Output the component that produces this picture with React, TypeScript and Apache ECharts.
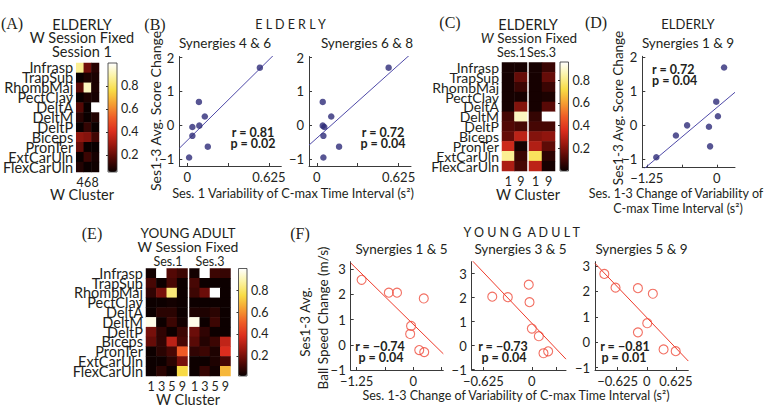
import React, { useEffect, useRef } from 'react';
import * as echarts from 'echarts';

// ---------- data ----------
const muscles = ['Infrasp', 'TrapSup', 'RhombMaj', 'PectClav', 'DeltA', 'DeltM', 'DeltP', 'Biceps', 'PronTer', 'ExtCarUln', 'FlexCarUln'];

// (A) ELDERLY, W Session Fixed, Session 1 — W clusters 4, 6, 8
const clustersA = ['4', '6', '8'];
const heatA = [
  [0.86, 0.22, 0.10],
  [0.05, 0.08, 0.08],
  [0.18, 0.92, 0.08],
  [0.05, 0.08, 0.07],
  [0.17, 0.05, 1.0],
  [0.10, 0.05, 0.09],
  [0.05, 0.12, 0.05],
  [0.27, 0.25, 0.14],
  [0.20, 0.05, 0.05],
  [0.05, 0.13, 0.07],
  [0.09, 0.05, 0.06],
];

// (C) ELDERLY, W Session Fixed — clusters 1, 9 in Ses.1 and Ses.3
const clustersC = ['1', '9'];
const heatC1 = [
  [0.02, 0.02], [0.02, 0.15], [0.02, 0.08], [0.02, 0.02], [0.02, 0.2], [0.1, 0.88],
  [0.12, 0.1], [0.15, 0.3], [0.33, 0.02], [0.82, 0.08], [0.27, 0.1],
];
const heatC3 = [
  [0.02, 0.08], [0.02, 0.15], [0.02, 0.08], [0.02, 0.03], [0.02, 0.13], [0.07, 0.96],
  [0.1, 0.1], [0.2, 0.22], [0.28, 0.14], [0.75, 0.06], [0.3, 0.02],
];

// (E) YOUNG ADULT, W Session Fixed — clusters 1, 3, 5, 9 in Ses.1 and Ses.3
const clustersE = ['1', '3', '5', '9'];
const heatE1 = [
  [0.03, 1.0, 0.14, 0.1], [0.12, 0.02, 0.12, 0.02], [0.08, 0.2, 0.82, 0.02], [0.02, 0.02, 0.03, 0.02],
  [0.02, 0.07, 0.07, 0.02], [0.97, 0.02, 0.1, 0.03], [0.2, 0.08, 0.02, 0.1], [0.17, 0.08, 0.32, 0.12],
  [0.02, 0.07, 0.12, 0.5], [0.02, 0.02, 0.07, 0.2], [0.02, 0.07, 0.02, 0.75],
];
const heatE3 = [
  [0.03, 1.0, 0.1, 0.09], [0.12, 0.02, 0.02, 0.02], [0.1, 0.18, 1.0, 0.02], [0.02, 0.02, 0.02, 0.02],
  [0.05, 0.05, 0.07, 0.02], [0.97, 0.02, 0.1, 0.02], [0.18, 0.08, 0.02, 0.02], [0.15, 0.06, 0.1, 0.33],
  [0.08, 0.1, 0.05, 0.38], [0.02, 0.02, 0.05, 0.12], [0.02, 0.09, 0.03, 0.68],
];
const colorbarTicks = [0.2, 0.4, 0.6, 0.8];

// (B), (D) ELDERLY scatter
const scoreChange = [1.70, 0.69, 0.26, -0.01, -0.05, -0.31, -0.63, -0.95];
const varS1Syn46 = [0.556, 0.09, 0.135, 0.093, 0.04, 0.04, 0.158, 0.015];
const varS1Syn68 = [0.549, 0.045, 0.11, 0.045, 0.057, 0.05, 0.17, 0.05];
const dVarSyn19 = [0.13, -0.01, 0.02, -0.53, -0.14, -0.73, -0.12, -1.08];

// (F) YOUNG ADULT scatter
const ballSyn15 = [2.58, 2.07, 2.07, 1.84, 0.75, 0.43, -0.21, -0.29];
const dVarSyn15 = [-1.14, -0.54, -0.36, 0.23, -0.05, -0.07, 0.13, 0.24];
const ballSyn35 = [2.54, 2.04, 2.02, 1.81, 0.71, 0.39, -0.24, -0.32];
const dVarSyn35 = [-0.04, -0.51, -0.31, -0.03, 0.0, 0.09, 0.21, 0.15];
const ballSyn59 = [2.69, 2.15, 2.13, 1.91, 0.75, 0.39, -0.28, -0.35];
const dVarSyn59 = [-0.91, -0.67, -0.19, 0.13, 0.01, -0.19, 0.36, 0.62];

const statsB = [['r = 0.81', 'p = 0.02'], ['r = 0.72', 'p = 0.04']];
const statsD = ['r = 0.72', 'p = 0.04'];
const statsF = [['r = \u22120.74', 'p = 0.04'], ['r = \u22120.73', 'p = 0.04'], ['r = \u22120.81', 'p = 0.01']];

// ---------- styling ----------
const FONT = 'Lato, "Open Sans", sans-serif';
const SERIF = '"Liberation Serif", "DejaVu Serif", serif';
const INK = '#231f20';
const AX = '#3a3a3a';
const HOT = ['#0a0000', '#520805', '#9c1810', '#dc2e1e', '#ef5d26', '#f59f32', '#f8dc46', '#fbf2a2', '#ffffff'];
const HS = 14.5; // heatmap panel text size
const SS = 13;   // scatter panel text size

const fmt = (v: number) => (v < 0 ? '\u2212' + String(Math.abs(v)) : String(v));

function fitLine(xs: number[], ys: number[], x0: number, x1: number) {
  const n = xs.length;
  const mx = xs.reduce((a, b) => a + b, 0) / n;
  const my = ys.reduce((a, b) => a + b, 0) / n;
  let sxy = 0, sxx = 0;
  for (let i = 0; i < n; i++) {
    sxy += (xs[i] - mx) * (ys[i] - my);
    sxx += (xs[i] - mx) * (xs[i] - mx);
  }
  const b = sxy / sxx;
  const a = my - b * mx;
  return [[x0, a + b * x0], [x1, a + b * x1]];
}

function buildOption() {
  const grid: any[] = [];
  const xAxis: any[] = [];
  const yAxis: any[] = [];
  const series: any[] = [];
  const visualMap: any[] = [];
  const txt = (size: number) => ({ fontFamily: FONT, color: INK, fontSize: size });

  const addHeat = (box: any, cols: string[], matrix: number[][], showRows: boolean, size: number) => {
    const gi = grid.length;
    grid.push({ ...box, show: false });
    xAxis.push({
      type: 'category', gridIndex: gi, data: cols,
      axisLine: { show: false }, axisTick: { show: false }, splitLine: { show: false },
      axisLabel: { ...txt(12.5), margin: 4, interval: 0 },
    });
    yAxis.push({
      type: 'category', gridIndex: gi, data: muscles, inverse: true,
      axisLine: { show: false }, axisTick: { show: false }, splitLine: { show: false },
      axisLabel: { ...txt(size), show: showRows, margin: 3, interval: 0 },
    });
    const data: number[][] = [];
    matrix.forEach((row, r) => row.forEach((v, c) => data.push([c, r, v])));
    series.push({ type: 'heatmap', xAxisIndex: gi, yAxisIndex: gi, data, silent: true, emphasis: { disabled: true } });
    return series.length - 1;
  };

  const addColorbar = (box: any, min: number, max: number, idx: number[]) => {
    visualMap.push({
      type: 'continuous', min, max, seriesIndex: idx, inRange: { color: HOT },
      left: box.left, top: box.top, itemWidth: box.width, itemHeight: box.height,
      calculable: false, padding: 0, hoverLink: false, orient: 'vertical', text: null,
    });
    const gi = grid.length;
    grid.push({ ...box, show: true, borderColor: '#333', borderWidth: 0.8, backgroundColor: 'transparent', z: 6 });
    xAxis.push({ type: 'value', gridIndex: gi, show: false, min: 0, max: 1 });
    yAxis.push({
      type: 'value', gridIndex: gi, min, max, position: 'right',
      axisLine: { show: false }, splitLine: { show: false },
      axisTick: { show: true, inside: true, length: 2, customValues: colorbarTicks, lineStyle: { color: '#333' } },
      axisLabel: { ...txt(12.5), margin: 4, customValues: colorbarTicks, formatter: (v: number) => v.toFixed(1) },
    });
  };

  const addScatter = (box: any, xr: number[], yr: number[], xLab: number[], xTick: number[], yLab: number[],
    xs: number[], ys: number[], st: any) => {
    const gi = grid.length;
    grid.push({ ...box, show: false });
    xAxis.push({
      type: 'value', gridIndex: gi, min: xr[0], max: xr[1],
      axisLine: { show: true, onZero: false, lineStyle: { color: AX, width: 1 } },
      axisTick: { show: true, inside: true, length: 3, customValues: xTick, lineStyle: { color: AX } },
      axisLabel: { ...txt(SS), margin: 4, customValues: xLab, formatter: fmt },
      splitLine: { show: false },
    });
    yAxis.push({
      type: 'value', gridIndex: gi, min: yr[0], max: yr[1],
      axisLine: { show: true, onZero: false, lineStyle: { color: AX, width: 1 } },
      axisTick: { show: true, inside: true, length: 3, customValues: yLab, lineStyle: { color: AX } },
      axisLabel: { ...txt(SS), margin: 5, customValues: yLab, formatter: fmt },
      splitLine: { show: false },
    });
    series.push({
      type: 'line', xAxisIndex: gi, yAxisIndex: gi, data: fitLine(xs, ys, xr[0], xr[1]),
      symbol: 'none', clip: true, silent: true, z: 2, lineStyle: { color: st.line, width: 1 },
    });
    series.push({
      type: 'scatter', xAxisIndex: gi, yAxisIndex: gi, data: xs.map((x, i) => [x, ys[i]]),
      symbol: 'circle', symbolSize: st.size, silent: true, z: 3, itemStyle: st.item,
    });
  };

  // (A)
  const sA = addHeat({ left: 66, top: 63, width: 33, height: 109 }, clustersA, heatA, true, HS);
  addColorbar({ left: 108, top: 63, width: 9, height: 109 }, 0.05, 1.0, [sA]);

  // (B)
  const blue = { line: '#4f4aa8', size: 6.5, item: { color: '#2d2a78' } };
  const bY = [-1.2, 2.03];
  addScatter({ left: 179.3, top: 56.5, width: 102, height: 109.5 }, [-0.06, 0.72], bY, [0, 0.625], [0, 0.3125, 0.625], [-1, 0, 1, 2], varS1Syn46, scoreChange, blue);
  addScatter({ left: 309, top: 56.5, width: 102, height: 109.5 }, [-0.06, 0.72], bY, [0, 0.625], [0, 0.3125, 0.625], [-1, 0, 1, 2], varS1Syn68, scoreChange, blue);

  // (C)
  const sC1 = addHeat({ left: 502, top: 62.5, width: 25, height: 108.5 }, clustersC, heatC1, true, 14);
  const sC3 = addHeat({ left: 529, top: 62.5, width: 26, height: 108.5 }, clustersC, heatC3, false, 14);
  addColorbar({ left: 560, top: 62, width: 8.5, height: 109 }, 0.0, 0.96, [sC1, sC3]);

  // (D)
  addScatter({ left: 642.3, top: 56.3, width: 92.7, height: 111.4 }, [-1.33, 0.325], [-1.26, 2.03], [-1.25, 0], [-1.25, -0.625, 0], [-1, 0, 1, 2], dVarSyn19, scoreChange, blue);

  // (E)
  const sE1 = addHeat({ left: 146, top: 268.5, width: 41.5, height: 107.5 }, clustersE, heatE1, true, HS);
  const sE3 = addHeat({ left: 189.5, top: 268.5, width: 41, height: 107.5 }, clustersE, heatE3, false, HS);
  addColorbar({ left: 238.5, top: 268.5, width: 8.5, height: 107.5 }, 0.015, 1.0, [sE1, sE3]);

  // (F)
  const red = { line: '#ee3b2b', size: 9, item: { color: 'rgba(255,255,255,0)', borderColor: '#ef4b3b', borderWidth: 1.1 } };
  addScatter({ left: 350.7, top: 261.7, width: 92.6, height: 108.3 }, [-1.38, 0.66], [-1.0, 3.3], [-1.25, 0], [-1.25, -0.625, 0, 0.625], [-1, 0, 1, 2, 3], dVarSyn15, ballSyn15, red);
  addScatter({ left: 471.7, top: 261.7, width: 94.3, height: 108.3 }, [-0.775, 0.44], [-1.02, 3.5], [-0.625, 0], [-0.625, 0, 0.3125], [-1, 0, 1, 2, 3], dVarSyn35, ballSyn35, red);
  addScatter({ left: 595, top: 261.7, width: 93.3, height: 108.3 }, [-1.11, 0.89], [-1.09, 3.17], [-0.625, 0, 0.625], [-0.625, 0, 0.625], [-1, 0, 1, 2, 3], dVarSyn59, ballSyn59, red);

  const T = (x: number, y: number, text: string, o: any = {}) => ({
    type: 'text', x, y, rotation: o.rot || 0, silent: true, z: 10,
    style: {
      text, fill: INK, fontFamily: o.family || FONT, fontSize: o.size || SS,
      fontWeight: o.weight || 'normal', align: o.align || 'center', verticalAlign: 'middle',
      rich: o.rich,
    },
  });
  const B = { weight: 'bold', size: 12.5 };
  const R = Math.PI / 2;
  const P = { family: SERIF, size: 16 };
  const H = { size: HS };
  const XT = { size: 12.5 };
  const SUB = { size: 13.5 };
  const SES = { size: 12.5 };
  const SP = { size: 12.5 };

  const graphic = [
    // panel letters
    T(12, 23, '(A)', P), T(155, 24, '(B)', P), T(450, 22, '(C)', P), T(596, 22, '(D)', P),
    T(92, 233, '(E)', P), T(300, 233, '(F)', P),
    // (A)
    T(82, 24, 'ELDERLY', H), T(82, 37.5, 'W Session Fixed', H), T(82, 51, 'Session 1', H), T(82, 194, 'W Cluster', H),
    // (B)
    T(290.5, 24, 'E L D E R L Y', SP), T(225, 43, 'Synergies 4 & 6', SUB), T(367, 43, 'Synergies 6 & 8', SUB),
    T(155, 111, 'Ses1-3 Avg. Score Change', { rot: R, size: 14 }),
    T(293, 193, 'Ses. 1 Variability of C-max Time Interval (s\u00B2)', { size: 12.8 }),
    T(253, 132, statsB[0][0], B), T(253, 143, statsB[0][1], B),
    T(383, 132, statsB[1][0], B), T(383, 143, statsB[1][1], B),
    // (C)
    T(528, 24, 'ELDERLY', H),
    T(529, 37.5, '{i|W} Session Fixed', { size: 13.5, rich: { i: { fontStyle: 'italic', fontFamily: FONT, fontSize: 13.5, fill: INK } } }),
    T(511.5, 52, 'Ses.1', SES), T(541.5, 52, 'Ses.3', SES), T(528, 194, 'W Cluster', H),
    // (D)
    T(688, 24, 'ELDERLY'), T(688, 43, 'Synergies 1 & 9', SUB),
    T(618, 108, 'Ses1-3 Avg. Score Change', { rot: R, size: 13.5 }),
    T(676, 193, 'Ses. 1-3 Change of Variability of', XT), T(678, 208, 'C-max Time Interval (s\u00B2)', XT),
    T(652, 69, statsD[0], { ...B, align: 'left' }), T(652, 80, statsD[1], { ...B, align: 'left' }),
    // (E)
    T(188, 233, 'YOUNG ADULT', { size: 13.5 }), T(188, 246.5, 'W Session Fixed', { size: 14 }),
    T(168, 261, 'Ses.1', SES), T(210, 261, 'Ses.3', SES), T(188, 399, 'W Cluster', H),
    // (F)
    T(521.7, 232, 'Y O U N G  A D U L T', SP),
    T(401.5, 249.3, 'Synergies 1 & 5', SUB), T(520.5, 249.3, 'Synergies 3 & 5', SUB), T(641.5, 249.3, 'Synergies 5 & 9', SUB),
    T(305, 322, 'Ses1-3 Avg.', { rot: R, size: 13.5 }), T(323, 318, 'Ball Speed Change (m/s)', { rot: R, size: 13.5 }),
    T(516, 395, 'Ses. 1-3 Change of Variability of C-max Time Interval (s\u00B2)', XT),
    T(380, 346.7, statsF[0][0], B), T(381, 357.7, statsF[0][1], B),
    T(503, 346.7, statsF[1][0], B), T(504, 357.7, statsF[1][1], B),
    T(625, 346.7, statsF[2][0], B), T(624, 357.7, statsF[2][1], B),
  ];

  return {
    animation: false,
    backgroundColor: '#ffffff',
    textStyle: { fontFamily: FONT },
    grid, xAxis, yAxis, series, visualMap, graphic,
  };
}

export default function App() {
  const ref = useRef<HTMLDivElement>(null);
  useEffect(() => {
    if (!ref.current) return;
    const chart = echarts.init(ref.current, null, { renderer: 'svg' });
    chart.setOption(buildOption() as any);
    return () => chart.dispose();
  }, []);
  return <div ref={ref} style={{ position: 'absolute', left: 0, top: 0, width: 772, height: 407 }} />;
}
